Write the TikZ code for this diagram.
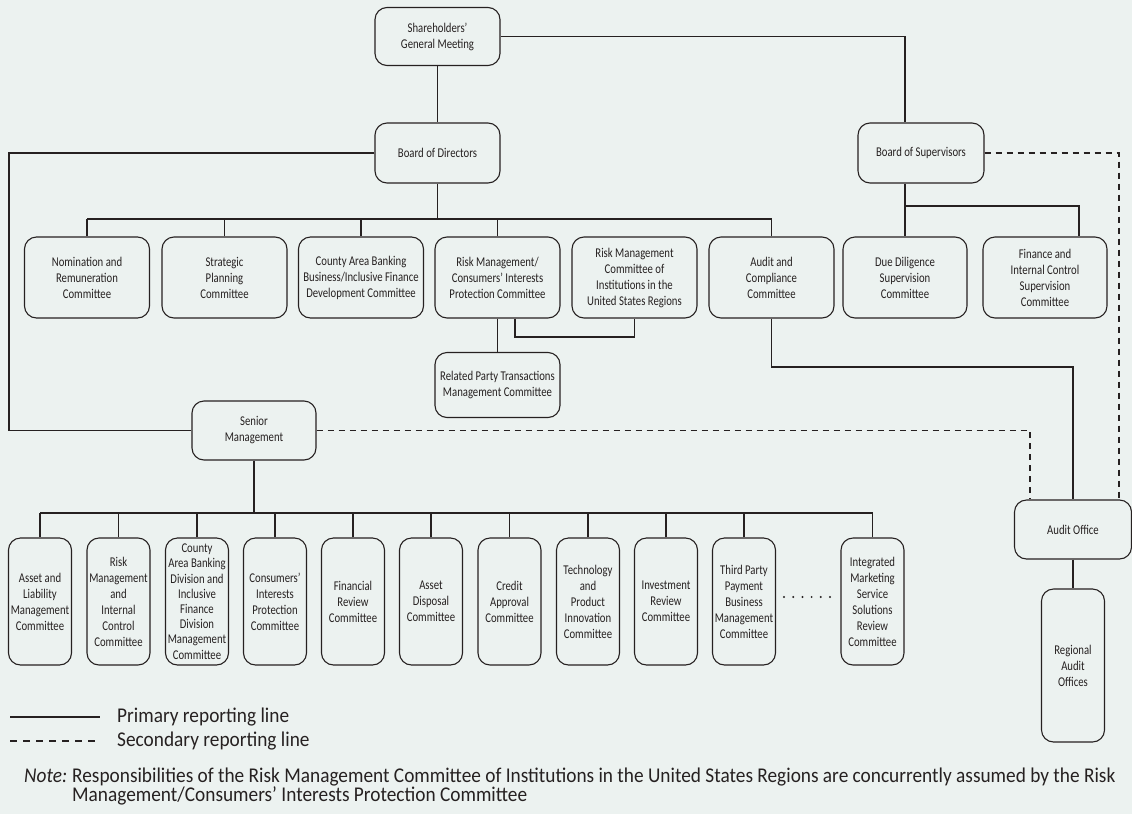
\documentclass[tikz,border=0pt]{standalone}
\usepackage{fontspec}
\setmainfont{Carlito}[FakeStretch=0.8]
\newfontfamily\legendfont{Carlito}[FakeStretch=0.92]
\definecolor{bg}{RGB}{236,242,240}
\definecolor{ink}{RGB}{38,33,33}
\begin{document}
\begin{tikzpicture}[x=1pt,y=-1pt,
  line/.style={draw=ink, line width=1.1pt},
  secline/.style={draw=ink, line width=1.1pt, dash pattern=on 6pt off 5pt},
  box/.style={draw=ink, line width=1.1pt, rounded corners=12pt, fill=bg,
    align=center, inner sep=0pt, text=ink,
    font=\fontsize{13.4}{16}\selectfont},
  wide/.style={box, minimum width=125pt, minimum height=81pt},
  tall/.style={box, minimum width=63pt, minimum height=127pt},
  legendtext/.style={text=ink, inner sep=0pt, font=\legendfont\fontsize{21}{19}\selectfont}]

% canvas
\fill[bg] (0,0) rectangle (1132,814);
\useasboundingbox (0,0) rectangle (1132,814);

% governing bodies
\node[box, minimum width=125pt, minimum height=58pt] (sgm) at (437.5,36.5) {Shareholders’\\General Meeting};
\node[box, minimum width=125pt, minimum height=60pt] (bod) at (437.5,153) {Board of Directors};
\node[box, minimum width=126pt, minimum height=60pt] (bos) at (921,153) {Board of Supervisors};

% board committees
\node[wide] (nrc) at (87,277.5) {Nomination and\\Remuneration\\Committee};
\node[wide] (spc) at (224.5,277.5) {Strategic\\Planning\\Committee};
\node[wide] (cab) at (361,277.5) {County Area Banking\\Business/Inclusive Finance\\Development Committee};
\node[wide] (rmc) at (497.5,277.5) {Risk Management/\\Consumers’ Interests\\Protection Committee};
\node[wide] (rmu) at (634.5,277.5) {Risk Management\\Committee of\\Institutions in the\\United States Regions};
\node[wide] (acc) at (771.5,277.5) {Audit and\\Compliance\\Committee};
\node[box, minimum width=125pt, minimum height=65pt] (rpt) at (497.5,385) {Related Party Transactions\\Management Committee};

% supervisory committees
\node[wide, minimum width=124pt] (ddc) at (905,277.5) {Due Diligence\\Supervision\\Committee};
\node[wide, minimum width=124pt] (fic) at (1045,277.5) {Finance and\\Internal Control\\Supervision\\Committee};

% senior management and its committees
\node[box, minimum width=124pt, minimum height=59pt] (sm) at (254,430.5) {Senior\\Management};
\node[tall] (b1) at (40,601.5) {Asset and\\Liability\\Management\\Committee};
\node[tall] (b2) at (118.5,601.5) {Risk\\Management\\and\\Internal\\Control\\Committee};
\node[tall, font=\fontsize{13.4}{15.2}\selectfont] (b3) at (197,601.5) {County\\Area Banking\\Division and\\Inclusive\\Finance\\Division\\Management\\Committee};
\node[tall] (b4) at (275,601.5) {Consumers’\\Interests\\Protection\\Committee};
\node[tall] (b5) at (353,601.5) {Financial\\Review\\Committee};
\node[tall] (b6) at (431,601.5) {Asset\\Disposal\\Committee};
\node[tall] (b7) at (509.5,601.5) {Credit\\Approval\\Committee};
\node[tall] (b8) at (588,601.5) {Technology\\and\\Product\\Innovation\\Committee};
\node[tall] (b9) at (666,601.5) {Investment\\Review\\Committee};
\node[tall] (b10) at (744,601.5) {Third Party\\Payment\\Business\\Management\\Committee};
\node[tall] (ims) at (872.5,601.5) {Integrated\\Marketing\\Service\\Solutions\\Review\\Committee};

% audit
\node[box, minimum width=117pt, minimum height=59pt] (ao) at (1073,529.5) {Audit Office};
\node[box, minimum width=63pt, minimum height=153pt] (rao) at (1073,665.5) {Regional\\Audit\\Offices};

% routing points
\coordinate (leftx) at (9,0);
\coordinate (dashx) at (1119,0);
\coordinate (smdashx) at (1030,0);
\coordinate (finx) at (1079,0);
\coordinate (rmux) at (515,0);
\coordinate (boardbus) at (0,219);
\coordinate (supbus) at (0,206);
\coordinate (rmuy) at (0,337);
\coordinate (accy) at (0,367);
\coordinate (smbus) at (0,513);

% primary reporting lines
\draw[line] (sgm) -- (bod);
\draw[line] (sgm.east) -| (ddc.north |- bos.north);
\draw[line] (bod.west) -| (leftx |- sm.west) -- (sm.west);

\draw[line] (bod.south) -- (bod.south |- boardbus);
\draw[line] (nrc.north |- boardbus) -- (acc.north |- boardbus);
\foreach \n in {nrc,spc,cab,rmc,acc}
  \draw[line] (\n.north) -- (\n.north |- boardbus);

\draw[line] (ddc.north |- bos.south) -- (ddc.north);
\draw[line] (ddc.north |- supbus) -| (finx |- fic.north);

\draw[line] (rmc.south) -- (rpt.north);
\draw[line] (rmux |- rmc.south) -- (rmux |- rmuy) -| (rmu.south);

\draw[line] (acc.south) -- (acc.south |- accy) -| (ao.north);

\draw[line] (sm.south) -- (sm.south |- smbus);
\draw[line] (b1.north |- smbus) -- (ims.north |- smbus);
\foreach \n in {b1,b2,b3,b4,b5,b6,b7,b8,b9,b10,ims}
  \draw[line] (\n.north) -- (\n.north |- smbus);

\draw[line] (ao.south) -- (rao.north);

% secondary reporting lines
\draw[secline] (bos.east) -| (dashx |- ao.north);
\draw[secline] (sm.east) -| (smdashx |- ao.north);

% omitted committees
\foreach \i in {0,...,5}
  \fill[ink] (784+\i*9.2,597) circle (1.1pt);

% legend
\coordinate (l1a) at (10,717);
\coordinate (l1b) at (100,717);
\coordinate (l2a) at (10,741);
\coordinate (l2b) at (100,741);
\draw[line] (l1a) -- (l1b);
\draw[secline, dash pattern=on 7pt off 6pt] (l2a) -- (l2b);
\node[legendtext, anchor=west] (lg1) at (117,717) {Primary reporting line};
\node[legendtext, anchor=west] (lg2) at (117,741) {Secondary reporting line};

% note
\node[legendtext, anchor=base west] (notelbl) at (24,782) {\itshape Note:};
\node[legendtext, anchor=base west] (note1) at (72,782) {Responsibilities of the Risk Management Committee of Institutions in the United States Regions are concurrently assumed by the Risk};
\node[legendtext, anchor=base west] (note2) at (72,801) {Management/Consumers’ Interests Protection Committee};
\end{tikzpicture}
\end{document}
